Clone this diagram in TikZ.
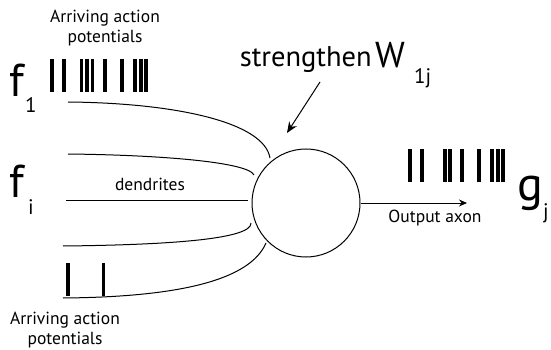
\documentclass[tikz,border=0pt]{standalone}
\usepackage{fontspec}
\setmainfont{PT Sans}
\usetikzlibrary{arrows.meta}
\begin{document}
\begin{tikzpicture}[x=1pt,y=-1pt,
  spike/.style={line width=3.6pt},
  dend/.style={line width=1pt},
  lbl/.style={inner sep=0pt,align=center,font=\fontsize{17.5}{20}\selectfont},
  big/.style={inner sep=0pt,font=\fontsize{46}{46}\selectfont},
  sub/.style={inner sep=0pt,font=\fontsize{21}{21}\selectfont}]
\useasboundingbox (0,0) rectangle (551,350);
% neuron
\node[draw,circle,line width=1pt,minimum size=108pt,inner sep=0pt] (neuron) at (306,203) {};
% labels
\node[lbl] (topl) at (105,28) {Arriving action\\potentials};
\node[lbl] (botl) at (65,330) {Arriving action\\potentials};
\node[lbl] (dl) at (150,184) {dendrites};
\node[lbl] (ol) at (435,218) {Output axon};
\node[inner sep=0pt,anchor=base east,font=\fontsize{28.5}{29}\selectfont] (str) at (372,67) {strengthen};
\node[inner sep=0pt,anchor=base west,font=\fontsize{36}{36}\selectfont] (W) at (375,68) {W};
\node[sub,anchor=base west] (Wsub) at (414,84) {1j};
\node[big,anchor=base west] (f1) at (9,97) {f};
\node[sub,anchor=base west] (f1s) at (25,113) {1};
\node[big,anchor=base west] (fi) at (9,197) {f};
\node[sub,anchor=base west] (fis) at (28,214) {i};
\node[big,anchor=base west,font=\fontsize{48}{48}\selectfont] (g) at (517,200) {g};
\node[sub,anchor=base west] (gs) at (543,218) {j};
% dendrite endpoints
\coordinate (a1) at (68,102);  \coordinate (b1) at (270,158);
\coordinate (a2) at (68,154);  \coordinate (b2) at (254,175);
\coordinate (a3) at (66,200);  \coordinate (b3) at (248,200);
\coordinate (a4) at (63,246);  \coordinate (b4) at (251,223);
\coordinate (a5) at (63,298);  \coordinate (b5) at (266,243);
\draw[dend] (a1) .. controls (175,103) and (264,122) .. (b1);
\draw[dend] (a2) .. controls (160,155) and (248,162) .. (b2);
\draw[dend] (a3) -- (b3);
\draw[dend] (a4) .. controls (160,245) and (252,240) .. (b4);
\draw[dend] (a5) .. controls (180,297) and (250,280) .. (b5);
% axon
\coordinate (axend) at (467,203);
\draw[dend,-{Stealth[length=8pt,width=7pt]}] (neuron.east) -- (axend);
% strengthen arrow
\coordinate (sa) at (320,82);
\coordinate (sb) at (287,133);
\draw[dend,-{Stealth[length=11pt,width=9pt]}] (sa) -- (sb);
% spikes f1
\foreach \x in {52,64,81.5,87,92.5,105,122,135,141,146}
  \draw[spike] (\x,59) -- (\x,92);
% spikes bottom
\foreach \x in {68,103.5}
  \draw[spike] (\x,263) -- (\x,296);
% spikes g
\foreach \x in {410,422,445,450,462,479,492,498,503}
  \draw[spike] (\x,149) -- (\x,182);
\end{tikzpicture}
\end{document}
